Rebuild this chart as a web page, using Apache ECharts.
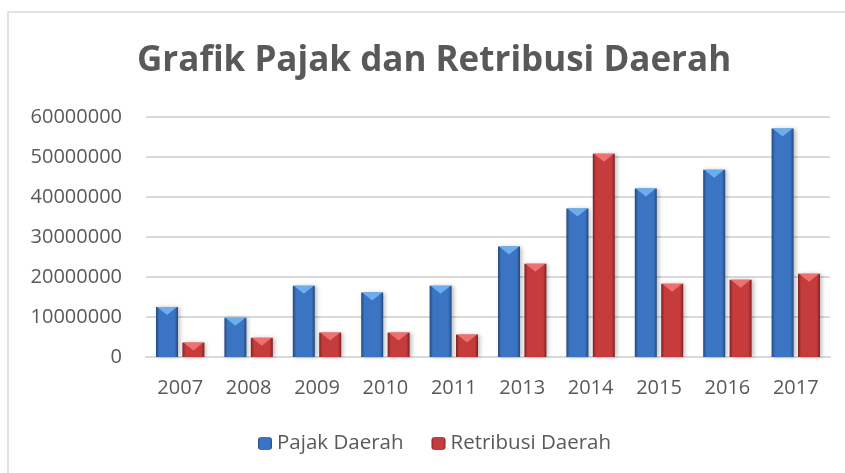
<!DOCTYPE html>
<html>
<head>
<meta charset="utf-8">
<script src="https://cdn.jsdelivr.net/npm/echarts@6/dist/echarts.min.js"></script>
<style>
  html, body { margin: 0; padding: 0; background: #fff; }
  #chart { width: 845px; height: 473px; }
</style>
</head>
<body>
<div id="chart"></div>
<script>
// data
const years = ['2007', '2008', '2009', '2010', '2011', '2013', '2014', '2015', '2016', '2017'];
const pajak = [12500000, 9800000, 17800000, 16100000, 17800000, 27600000, 37100000, 42100000, 46800000, 57100000];
const retribusi = [3600000, 4800000, 6100000, 6100000, 5600000, 23300000, 50800000, 18300000, 19300000, 20800000];
const yTicks = [0, 10000000, 20000000, 30000000, 40000000, 50000000, 60000000];

const txt = '#595959';
const font = 'Open Sans';

// horizontal gradient to fake the bevel
function bevel(dark, mid) {
  return new echarts.graphic.LinearGradient(0, 0, 1, 0, [
    { offset: 0, color: dark },
    { offset: 0.15, color: mid },
    { offset: 0.85, color: mid },
    { offset: 1, color: dark }
  ]);
}

const chart = echarts.init(document.getElementById('chart'));
const barW = 22;

chart.setOption({
  animation: false,
  backgroundColor: '#fff',
  title: {
    text: 'Grafik Pajak dan Retribusi Daerah',
    left: 132,
    top: 39,
    textStyle: { fontFamily: font, fontSize: 35, fontWeight: 'bold', color: txt }
  },
  legend: {
    bottom: 14,
    left: 253,
    itemWidth: 14,
    itemHeight: 13,
    itemGap: 28,
    data: ['Pajak Daerah', 'Retribusi Daerah'],
    textStyle: { fontFamily: font, fontSize: 20.5, color: txt }
  },
  graphic: [{
    type: 'rect',
    shape: { x: 8, y: 12, width: 900, height: 600 },
    style: { fill: 'none', stroke: '#d9d9d9', lineWidth: 1.5 },
    silent: true
  }],
  grid: { left: 146, right: 15, top: 117, height: 240 },
  xAxis: {
    type: 'category',
    data: years,
    axisTick: { show: false },
    axisLine: { lineStyle: { color: '#d9d9d9', width: 2 } },
    axisLabel: { fontFamily: font, fontSize: 20, color: txt, margin: 21 }
  },
  yAxis: {
    type: 'value',
    min: 0,
    max: 60000000,
    interval: 10000000,
    axisLine: { show: false },
    axisTick: { show: false },
    splitLine: { lineStyle: { color: '#d9d9d9', width: 2 } },
    axisLabel: {
      fontFamily: font, fontSize: 20, color: txt, margin: 24,
      formatter: v => yTicks.includes(v) ? String(v) : ''
    }
  },
  series: [
    {
      name: 'Pajak Daerah',
      type: 'bar',
      barWidth: barW,
      barGap: '20%',
      data: pajak,
      itemStyle: {
        color: bevel('#24497d', '#3a74c2'),
        shadowColor: 'rgba(0,0,0,0.25)', shadowBlur: 4, shadowOffsetX: 2
      }
    },
    {
      name: 'Retribusi Daerah',
      type: 'bar',
      barWidth: barW,
      barGap: '20%',
      data: retribusi,
      itemStyle: {
        color: bevel('#7e2223', '#c63c3d'),
        shadowColor: 'rgba(0,0,0,0.25)', shadowBlur: 4, shadowOffsetX: 2
      }
    },
    {
      name: 'Pajak Daerah',
      type: 'pictorialBar',
      barWidth: barW,
      barGap: '20%',
      symbol: 'path://M0,0 L10,0 L5,4 Z',
      symbolSize: [barW - 2, 8],
      symbolPosition: 'end',
      symbolOffset: [0, 0],
      silent: true,
      z: 5,
      data: pajak,
      itemStyle: { color: '#6aaef0' }
    },
    {
      name: 'Retribusi Daerah',
      type: 'pictorialBar',
      barWidth: barW,
      barGap: '20%',
      symbol: 'path://M0,0 L10,0 L5,4 Z',
      symbolSize: [barW - 2, 8],
      symbolPosition: 'end',
      symbolOffset: [0, 0],
      silent: true,
      z: 5,
      data: retribusi,
      itemStyle: { color: '#ee7070' }
    }
  ]
});
</script>
</body>
</html>
